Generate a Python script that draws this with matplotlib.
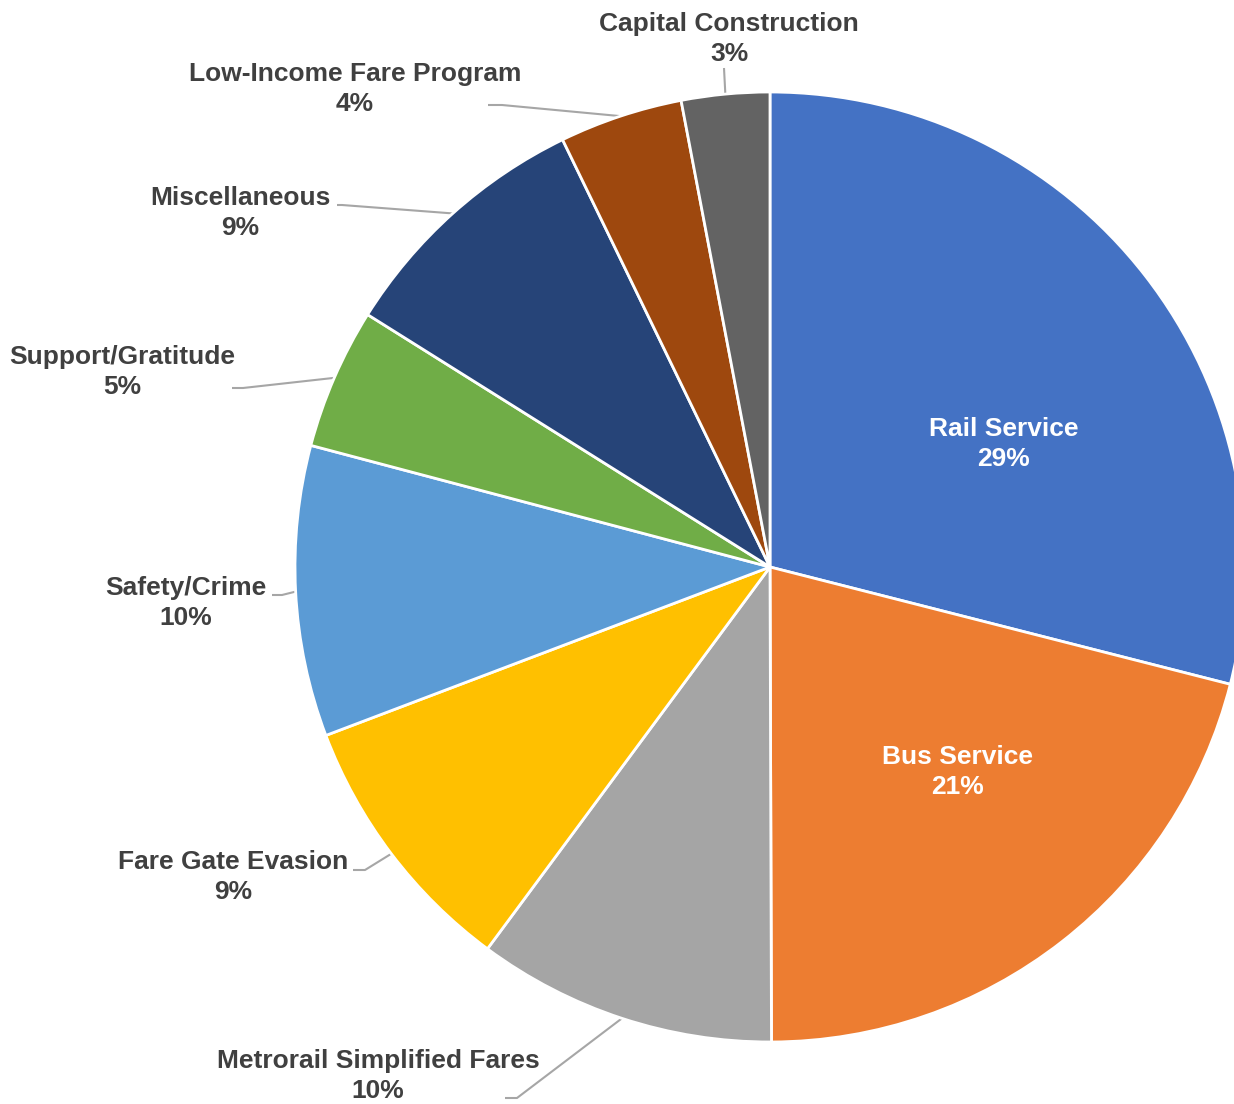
import numpy as np
import matplotlib
matplotlib.use("Agg")
import matplotlib.pyplot as plt

categories = ["Rail Service", "Bus Service", "Metrorail Simplified Fares",
              "Fare Gate Evasion", "Safety/Crime", "Support/Gratitude",
              "Miscellaneous", "Low-Income Fare Program", "Capital Construction"]
values = [29.0, 21.0, 10.2, 9.1, 9.9, 4.8, 8.9, 4.2, 3.0]
pct_labels = ["29%", "21%", "10%", "9%", "10%", "5%", "9%", "4%", "3%"]
colors = ["#4472C4", "#ED7D31", "#A5A5A5", "#FFC000", "#5B9BD5",
          "#70AD47", "#264478", "#9E480E", "#636363"]

W, H = 1234, 1104
fig = plt.figure(figsize=(W / 100, H / 100), dpi=100)
ax = fig.add_axes([0, 0, 1, 1])

cx, cy, R = 770, H - 567, 475
wedges, _ = ax.pie(values, colors=colors, startangle=90, counterclock=False,
                   center=(cx, cy), radius=R, frame=True,
                   wedgeprops=dict(edgecolor="white", linewidth=2.0))
ax.set_xlim(0, W)
ax.set_ylim(0, H)
ax.set_aspect("equal")
ax.axis("off")

font = dict(family=["Liberation Sans", "DejaVu Sans"], fontweight="bold", fontsize=19)
LS = 1.33

# inside labels (pixel coords, top-origin)
inside = {0: (1004, 444), 1: (957, 772)}
for i, (x, y) in inside.items():
    ax.text(x, H - y, f"{categories[i]}\n{pct_labels[i]}", color="white",
            ha="center", va="center", linespacing=LS, **font)

# outside labels: text center, elbow point, line end (pixel coords, top-origin)
outside = {
    2: ((378, 1076), (517, 1098), (505, 1098)),
    3: ((233, 877), (365, 870), (353, 870)),
    4: ((186, 603), (282, 595), (272, 595)),
    5: ((122, 372), (243, 388), (232, 388)),
    6: ((240, 213), (342, 205), (337, 205)),
    7: ((355, 89), (502, 105), (488, 105)),
    8: ((729, 39), (724, 68), (724, 68)),
}
for i, (tpos, elbow, lend) in outside.items():
    w = wedges[i]
    ang = np.deg2rad((w.theta1 + w.theta2) / 2)
    sx, sy = cx + R * np.cos(ang), cy + R * np.sin(ang)
    ax.plot([sx, elbow[0], lend[0]], [sy, H - elbow[1], H - lend[1]],
            color="#A6A6A6", lw=1.5, solid_capstyle="butt", zorder=0.5)
    ax.text(tpos[0], H - tpos[1], f"{categories[i]}\n{pct_labels[i]}", color="#404040",
            ha="center", va="center", linespacing=LS, **font)

fig.savefig("out.png", dpi=100)
